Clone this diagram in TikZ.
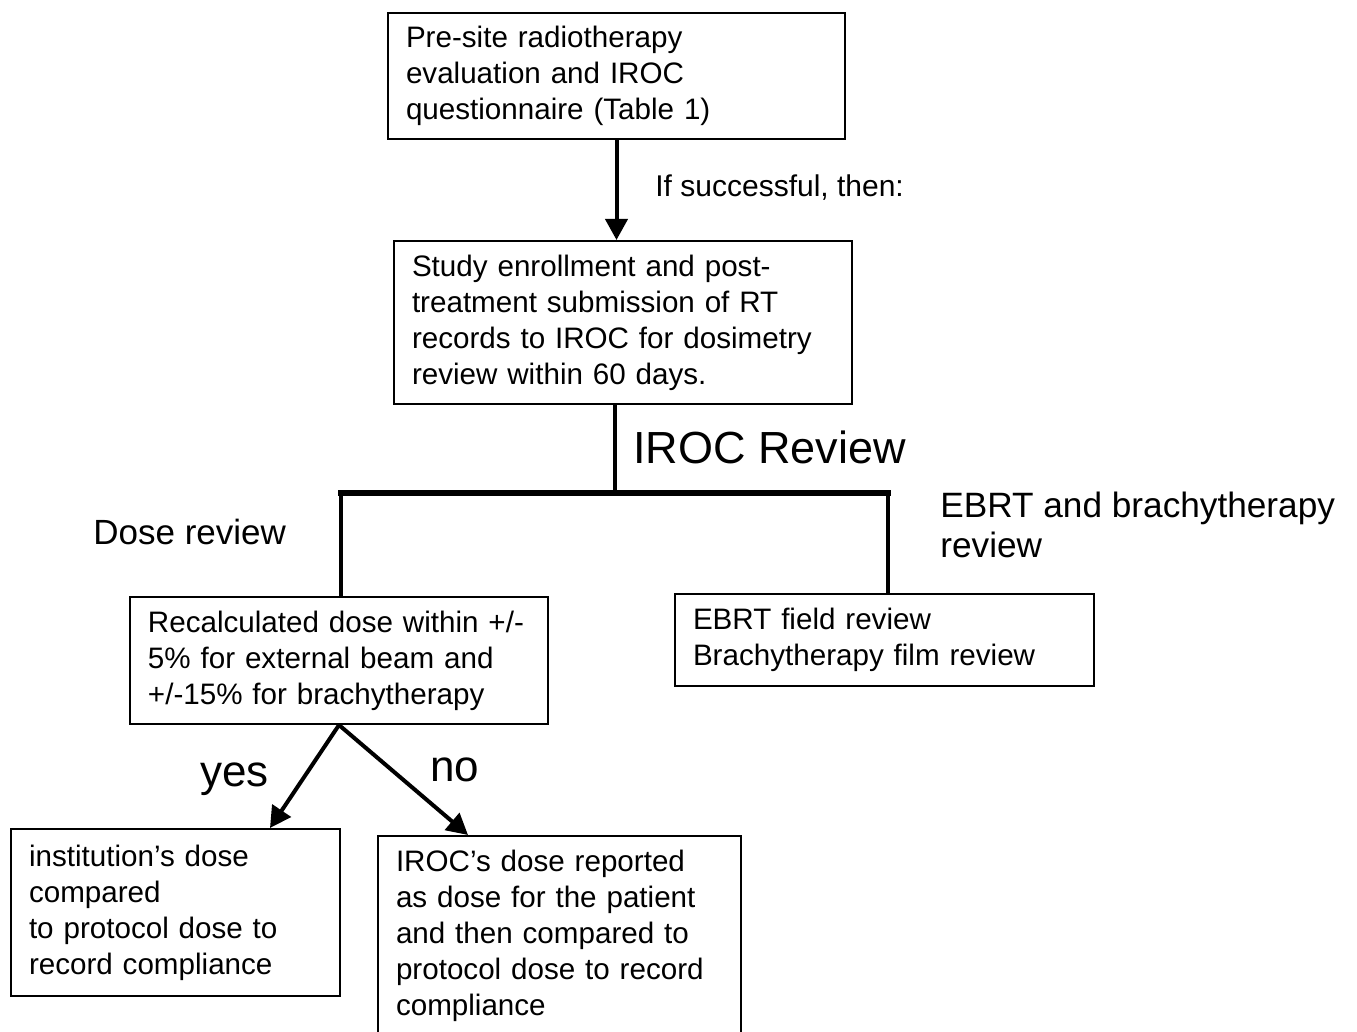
\documentclass[tikz,border=0pt]{standalone}
\usepackage{fontspec}
\setmainfont{Liberation Sans}
\usetikzlibrary{arrows.meta}
\begin{document}
\begin{tikzpicture}[x=0.5pt,y=-0.5pt,
  box/.style={draw, line width=1pt, anchor=north west, align=left, inner xsep=9pt, inner ysep=0pt,
    font=\fontsize{14.8}{18}\selectfont},
  lbl/.style={anchor=base west, inner sep=0pt, align=left},
  arr/.style={line width=2pt, -{Triangle[length=10.5pt,width=11pt]}},
  stem/.style={line width=2pt},
]
\useasboundingbox[fill=white] (0,0) rectangle (1357,1032);

\node[box, text width=210.5pt, minimum height=63pt] (b1) at (387,12)
  {Pre-site radiotherapy\\evaluation and IROC\\questionnaire (Table 1)};
\node[box, text width=211pt, minimum height=81.5pt] (b2) at (393,240)
  {Study enrollment and post-\\treatment submission of RT\\records to IROC for dosimetry\\review within 60 days.};
\node[box, text width=191pt, minimum height=63.5pt] (b3) at (129,596)
  {Recalculated dose within +/-\\5\% for external beam and\\+/-15\% for brachytherapy};
\node[box, text width=191.5pt, minimum height=46pt] (b4) at (674,593)
  {EBRT field review\\Brachytherapy film review};
\node[box, text width=146.5pt, minimum height=83.5pt] (b5) at (10,828)
  {institution's dose\\compared\\to protocol dose to\\record compliance};
\node[box, text width=163.5pt, minimum height=99.5pt] (b6) at (377,835)
  {IROC's dose reported\\as dose for the patient\\and then compared to\\protocol dose to record\\compliance};

\node[lbl, font=\fontsize{15}{18}\selectfont] (lsucc) at (655,197) {If successful, then:};
\node[lbl, font=\fontsize{22.5}{26}\selectfont] (liroc) at (633,464) {IROC Review};
\node[lbl, font=\fontsize{17.5}{20}\selectfont] (ldose) at (93,545) {Dose review};
\node[lbl, font=\fontsize{17.6}{20}\selectfont] (lebrt) at (940,558) {EBRT and brachytherapy\\review};
\node[lbl, font=\fontsize{22}{26}\selectfont] (lyes) at (200,786) {yes};
\node[lbl, font=\fontsize{22}{26}\selectfont] (lno) at (430,781) {no};

\coordinate (j) at (615,493);
\coordinate (bl) at (341,493);
\coordinate (br) at (888,493);

\draw[arr] (b1.south) -- (b1.south |- b2.north);
\draw[line width=1.6pt] (j |- b2.south) -- (j);
\draw[stem] (bl |- b3.north) -- (bl);
\draw[stem] (br |- b4.north) -- (br);
\draw[line width=3pt, line cap=rect] (bl) -- (br);
\draw[arr] (b3.south) -- ([xshift=130pt]b5.north west);
\draw[arr] (b3.south) -- ([xshift=45.5pt]b6.north west);
\end{tikzpicture}
\end{document}
